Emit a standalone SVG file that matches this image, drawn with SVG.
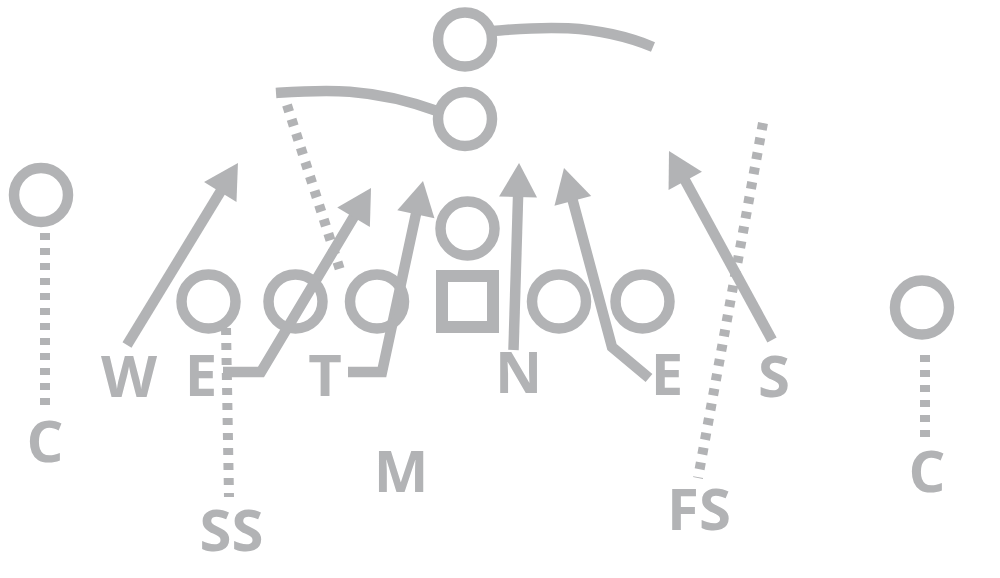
<svg xmlns="http://www.w3.org/2000/svg" width="1000" height="578" viewBox="0 0 1000 578">
<style>
.ring{fill:none;stroke:#b2b3b5;stroke-width:10.5}
.sq{fill:none;stroke:#b2b3b5;stroke-width:12}
.route{fill:none;stroke:#b2b3b5;stroke-width:10.5;stroke-linejoin:miter}
.arrow{marker-end:url(#ah)}
.dot{fill:none;stroke:#b2b3b5;stroke-width:10;stroke-dasharray:7 8}
.lbl{font-family:"Open Sans","Liberation Sans",sans-serif;font-weight:700;font-size:58px;fill:#b2b3b5;text-anchor:middle}
</style>
<defs>
<marker id="ah" markerUnits="userSpaceOnUse" orient="auto" refX="2" refY="0" markerWidth="40" markerHeight="40" overflow="visible">
<path d="M0,-19 L34,0 L0,19 z" fill="#b2b3b5"/>
</marker>
</defs>
<rect width="1000" height="578" fill="#ffffff"/>
<g id="connectors">
<path class="route" d="M493,31 C530,28 590,21 653,47"/>
<path class="route" d="M276,93 C320,90 370,86 440,112"/>
<path class="dot" d="M287,105 L341,273"/>
<path class="dot" d="M45,233 L45,410"/>
<path class="dot" d="M925,355 L925,440"/>
<path class="dot" d="M226,328 L229,497"/>
<path class="dot" d="M763,123 L698,478"/>
<path class="route arrow" d="M127,345 L221.3,190.3"/>
<path class="route arrow" d="M223,372 L261,372 L354.6,215.5"/>
<path class="route arrow" d="M348,372 L382,372 L416.3,212.3"/>
<path class="route arrow" d="M513.5,350 L518.1,195"/>
<path class="route arrow" d="M649,378 L612,347 L572.3,198.9"/>
<path class="route arrow" d="M772,340 L684.3,179.1"/>
</g>
<g id="qb-deep"><circle class="ring" cx="465" cy="39.5" r="27"/></g>
<g id="qb"><circle class="ring" cx="465" cy="119" r="27"/></g>
<g id="back"><circle class="ring" cx="467.5" cy="228.5" r="27"/></g>
<g id="center"><rect class="sq" x="442" y="276" width="51" height="51"/></g>
<g id="ol1"><circle class="ring" cx="208.5" cy="301.5" r="27"/></g>
<g id="ol2"><circle class="ring" cx="295.5" cy="301.5" r="27"/></g>
<g id="ol3"><circle class="ring" cx="377" cy="301.5" r="27"/></g>
<g id="ol4"><circle class="ring" cx="559" cy="301.5" r="27"/></g>
<g id="ol5"><circle class="ring" cx="642.5" cy="301.5" r="27"/></g>
<g id="wr-left"><circle class="ring" cx="41" cy="195" r="27"/></g>
<g id="wr-right"><circle class="ring" cx="922" cy="307.5" r="27"/></g>
<g id="def-W"><text class="lbl" x="129" y="397">W</text></g>
<g id="def-E1"><text class="lbl" x="201" y="396">E</text></g>
<g id="def-T"><text class="lbl" x="325" y="396">T</text></g>
<g id="def-N"><text class="lbl" x="518.5" y="393">N</text></g>
<g id="def-E2"><text class="lbl" x="667" y="395">E</text></g>
<g id="def-S"><text class="lbl" x="774" y="397">S</text></g>
<g id="def-M"><text class="lbl" x="401" y="492">M</text></g>
<g id="def-SS"><text class="lbl" x="231.5" y="551">SS</text></g>
<g id="def-FS"><text class="lbl" x="699" y="530">FS</text></g>
<g id="def-C1"><text class="lbl" x="45" y="462">C</text></g>
<g id="def-C2"><text class="lbl" x="927" y="492">C</text></g>
</svg>
